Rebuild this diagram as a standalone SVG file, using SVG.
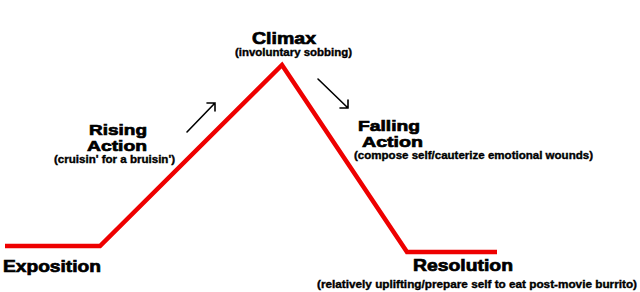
<svg xmlns="http://www.w3.org/2000/svg" width="640" height="292" viewBox="0 0 640 292">
<style>
text { font-family: "Liberation Sans", Arial, sans-serif; font-weight: bold; fill: #000; stroke: #000; }
.main { font-size: 16.5px; stroke-width: 0.7; }
.two { font-size: 15.5px; }
.sub { font-size: 10px; stroke-width: 0.35; }
.plot { fill: none; stroke: #ee0000; stroke-width: 4.5; stroke-linejoin: miter; }
.arr { fill: none; stroke: #000; stroke-width: 1.6; stroke-linecap: round; stroke-linejoin: miter; }
</style>
<rect width="640" height="292" fill="#fff"/>
<g id="connectors">
  <polyline class="plot" points="5,246 100,246 282,65 407,252 497,252"/>
  <path class="arr" d="M187,132 L215,103 M207,103 L215,103 L215,111"/>
  <path class="arr" d="M318,79 L348,108 M340,108 L348,108 L348,100"/>
</g>
<g id="exposition">
  <text class="main" x="3" y="272" textLength="98" lengthAdjust="spacingAndGlyphs">Exposition</text>
</g>
<g id="rising-action">
  <text class="main two" x="89" y="135" textLength="58" lengthAdjust="spacingAndGlyphs">Rising</text>
  <text class="main two" x="87" y="151" textLength="60" lengthAdjust="spacingAndGlyphs">Action</text>
  <text class="sub" x="54" y="162.5" textLength="121" lengthAdjust="spacingAndGlyphs">(cruisin' for a bruisin')</text>
</g>
<g id="climax">
  <text class="main" x="252" y="44" textLength="64" lengthAdjust="spacingAndGlyphs">Climax</text>
  <text class="sub" x="235" y="55.5" textLength="117" lengthAdjust="spacingAndGlyphs">(involuntary sobbing)</text>
</g>
<g id="falling-action">
  <text class="main two" x="358" y="131" textLength="62" lengthAdjust="spacingAndGlyphs">Falling</text>
  <text class="main two" x="362" y="147" textLength="61" lengthAdjust="spacingAndGlyphs">Action</text>
  <text class="sub" x="354" y="158.5" textLength="239" lengthAdjust="spacingAndGlyphs">(compose self/cauterize emotional wounds)</text>
</g>
<g id="resolution">
  <text class="main" x="413" y="271" textLength="100" lengthAdjust="spacingAndGlyphs">Resolution</text>
  <text class="sub" x="317" y="288" textLength="320" lengthAdjust="spacingAndGlyphs">(relatively uplifting/prepare self to eat post-movie burrito)</text>
</g>
</svg>
